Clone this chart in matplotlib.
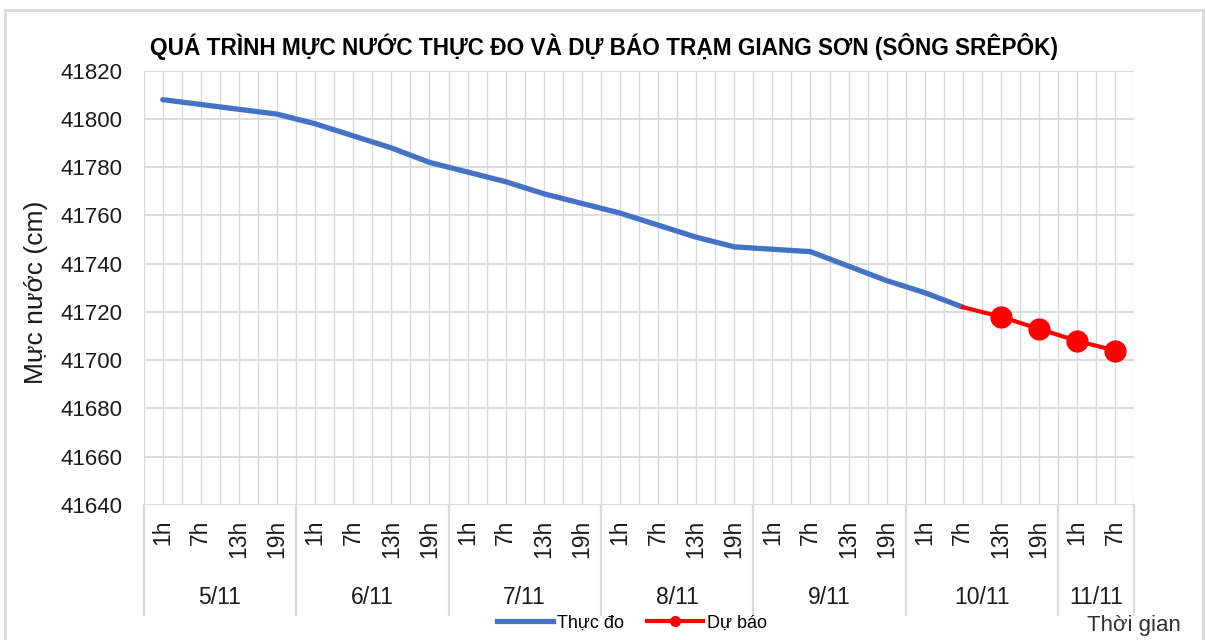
import matplotlib.pyplot as plt
from matplotlib.lines import Line2D
from matplotlib.patches import Rectangle
import matplotlib.transforms as mtransforms

plt.rcParams['font.family'] = ['Liberation Sans', 'DejaVu Sans']

# data
days = ['5/11', '6/11', '7/11', '8/11', '9/11', '10/11', '11/11']
hours_per_day = [4, 4, 4, 4, 4, 4, 2]
hour_labels = ['1h', '7h', '13h', '19h'] * 6 + ['1h', '7h']

observed = [41808, 41806, 41804, 41802, 41798, 41793, 41788, 41782,
            41778, 41774, 41769, 41765, 41761, 41756, 41751, 41747,
            41746, 41745, 41739, 41733, 41728, 41722]
forecast = [41722, 41718, 41713, 41708, 41704]

y_ticks = [41640, 41660, 41680, 41700, 41720, 41740, 41760, 41780, 41800, 41820]

title = 'QUÁ TRÌNH MỰC NƯỚC THỰC ĐO VÀ DỰ BÁO TRẠM GIANG SƠN (SÔNG SRÊPÔK)'

blue = '#4472C4'
red = '#FF0000'
grid_col = '#D9D9D9'
text_col = '#1a1a1a'

W, H = 1206, 640
fig = plt.figure(figsize=(W / 100, H / 100), dpi=100)
ax = fig.add_axes([143.7 / W, 1 - 505 / H, (1134.3 - 143.7) / W, (505 - 70.7) / H])

n = len(hour_labels)
x_obs = list(range(len(observed)))
x_fc = list(range(len(observed) - 1, len(observed) - 1 + len(forecast)))

ax.plot(x_obs, observed, color=blue, lw=3.8, solid_capstyle='round', zorder=3)
ax.plot(x_fc, forecast, color=red, lw=3.0, marker='o', markersize=15,
        markevery=list(range(1, len(forecast))), zorder=4)

ax.set_xlim(-0.5, n - 0.5)
ax.set_ylim(y_ticks[0], y_ticks[-1])
ax.set_yticks(y_ticks)
ax.tick_params(axis='y', length=0, pad=15, labelsize=16, colors=text_col)

# vertical gridlines at every half category
for k in range(2 * n + 1):
    ax.axvline(-0.5 + k * 0.5, color=grid_col, lw=1.0, zorder=1)
for yv in y_ticks:
    ax.axhline(yv, color=grid_col, lw=1.3, zorder=1)
for s in ax.spines.values():
    s.set_visible(False)

# hour labels
ax.set_xticks(range(n))
ax.set_xticklabels(hour_labels, rotation=90, fontsize=16.5, color=text_col)
ax.tick_params(axis='x', length=0, pad=10.5)

# day groups and separators below the axis
trans = mtransforms.blended_transform_factory(ax.transData, ax.transAxes)
axh = 505 - 70.7
sep_bottom = -(615 - 505) / axh
label_y = -(598 - 505) / axh
start = -0.5
for day, cnt in zip(days, hours_per_day):
    ax.plot([start, start], [0, sep_bottom], transform=trans, color=grid_col,
            lw=1.6, clip_on=False)
    ax.text(start + cnt / 2, label_y, day, transform=trans, ha='center',
            va='center', fontsize=16.5, color=text_col)
    start += cnt
ax.plot([start, start], [0, sep_bottom], transform=trans, color=grid_col,
        lw=1.6, clip_on=False)

fig.text(604 / W, 1 - 47 / H, title, ha='center', va='center', fontsize=16.3,
         fontweight='bold')
fig.text(36 / W, 1 - 292 / H, 'Mực nước (cm)', rotation=90, ha='center',
         va='center', fontsize=19, color=text_col)
fig.text(1134 / W, 1 - 625 / H, 'Thời gian', ha='center', va='center',
         fontsize=16, color='#333333')

handles = [Line2D([], [], color=blue, lw=3.8),
           Line2D([], [], color=red, lw=3.0, marker='o', markersize=7)]
fig.legend(handles, ['Thực đo', 'Dự báo'], loc='center', ncol=2,
           bbox_to_anchor=(632 / W, 1 - 623 / H), frameon=False, fontsize=13,
           handlelength=3.1, handletextpad=0.2, columnspacing=1.3)

# outer frame
fig.patches.append(Rectangle((5 / W, -0.02), (1203 - 5) / W, 1 - 10 / H + 0.02,
                             transform=fig.transFigure, fill=False,
                             edgecolor=grid_col, lw=2))

fig.savefig('out.png', dpi=100)
